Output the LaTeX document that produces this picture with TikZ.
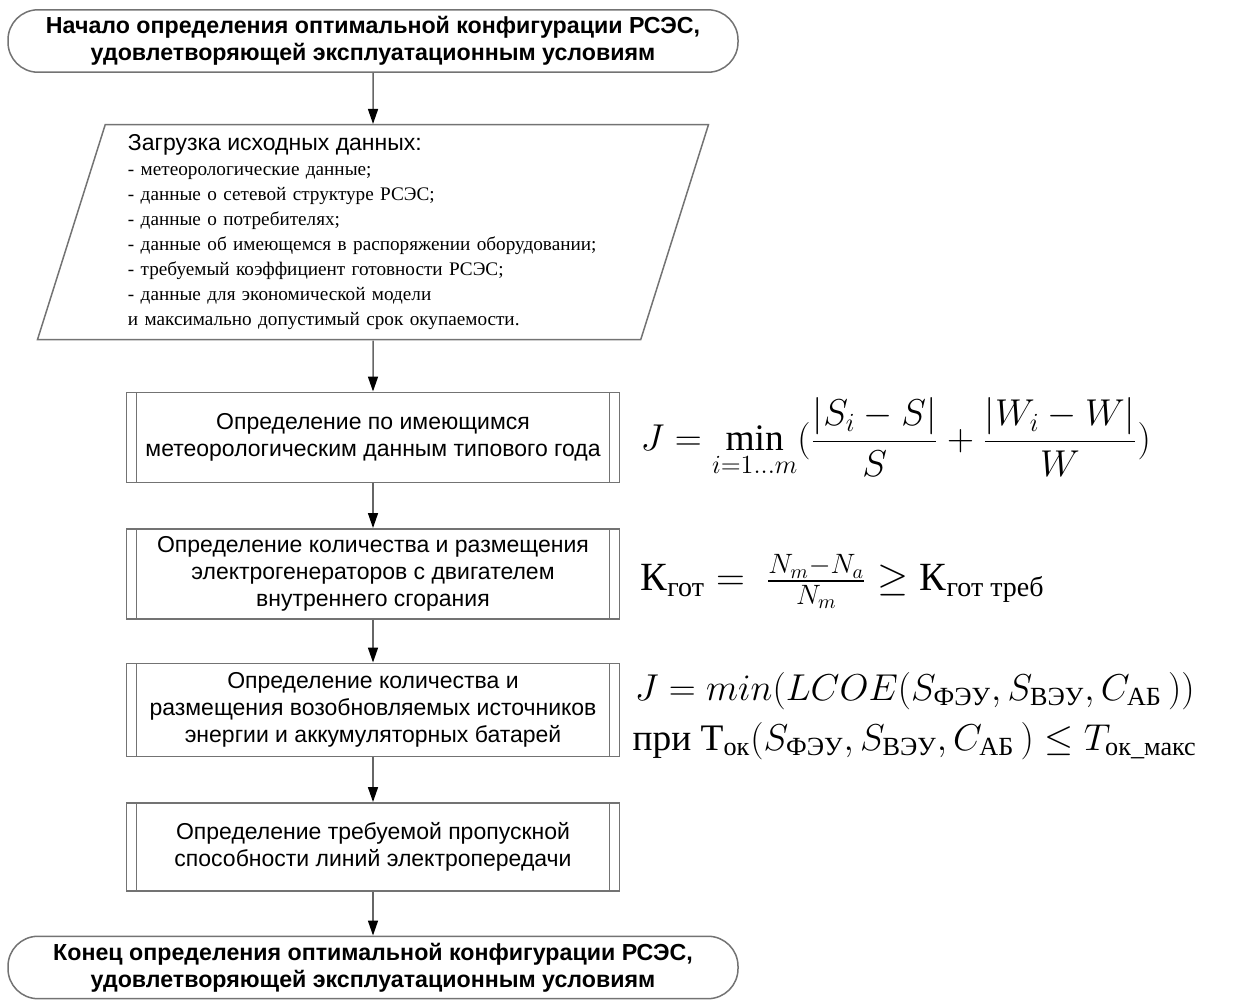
\RequirePackage{fix-cm}
\documentclass[tikz,border=0pt]{standalone}
\usepackage{fontspec}
\usepackage{amsmath}
\setmainfont{Liberation Serif}
\setsansfont{Liberation Sans}
\usetikzlibrary{positioning,shapes.geometric,arrows.meta}

\tikzset{
  linea/.style={draw=black!55, line width=0.75pt},
  terminal/.style={linea, rounded corners=15pt, minimum width=365pt, minimum height=31pt,
    align=center, font=\sffamily\bfseries\fontsize{11.6}{13.5}\selectfont},
  datos/.style={linea, trapezium, trapezium left angle=72, trapezium right angle=108,
    trapezium stretches body, minimum width=335.5pt, minimum height=107.5pt,
    text width=245pt, align=left, font=\rmfamily\fontsize{9.6}{12.5}\selectfont},
  proceso/.style={linea, minimum width=246.5pt, minimum height=45pt, align=center,
    font=\sffamily\fontsize{11.5}{13.6}\selectfont,
    path picture={
      \draw[black!55, line width=0.75pt]
        ([xshift=5pt]path picture bounding box.north west) -- ([xshift=5pt]path picture bounding box.south west)
        ([xshift=-5pt]path picture bounding box.north east) -- ([xshift=-5pt]path picture bounding box.south east);}},
  flecha/.style={draw=black!60, line width=0.75pt, -{Triangle[length=7.5pt,width=5pt,color=black]}},
  formula/.style={inner sep=0pt, align=center, font=\rmfamily\fontsize{18.7}{25}\selectfont}
}

\begin{document}
\begin{tikzpicture}[x=0.5pt,y=-0.5pt]
\useasboundingbox (0,0) rectangle (1235,1003);

\node[terminal] (nachalo) at (373,41) {Начало определения оптимальной конфигурации РСЭС,\\удовлетворяющей эксплуатационным условиям}; % start
\node[datos, below=25.5pt of nachalo] (zagruzka) {{\sffamily\fontsize{11.5}{12.5}\selectfont Загрузка исходных данных:}\\
- метеорологические данные;\\
- данные о сетевой структуре РСЭС;\\
- данные о потребителях;\\
- данные об имеющемся в распоряжении оборудовании;\\
- требуемый коэффициент готовности РСЭС;\\
- данные для экономической модели\\
и максимально допустимый срок окупаемости.};
\node[proceso, below=25.5pt of zagruzka] (etap1) {Определение по имеющимся\\метеорологическим данным типового года};
\node[proceso, below=22.5pt of etap1] (etap2) {Определение количества и размещения\\электрогенераторов с двигателем\\внутреннего сгорания};
\node[proceso, below=21.5pt of etap2, minimum height=46.5pt] (etap3) {Определение количества и\\размещения возобновляемых источников\\энергии и аккумуляторных батарей};
\node[proceso, below=22.5pt of etap3, minimum height=44pt] (etap4) {Определение требуемой пропускной\\способности линий электропередачи};
\node[terminal, below=22pt of etap4, minimum height=30pt] (konec) {Конец определения оптимальной конфигурации РСЭС,\\удовлетворяющей эксплуатационным условиям}; % end

\draw[flecha] (nachalo) -- (zagruzka);
\draw[flecha] (zagruzka) -- (etap1);
\draw[flecha] (etap1) -- (etap2);
\draw[flecha] (etap2) -- (etap3);
\draw[flecha] (etap3) -- (etap4);
\draw[flecha] (etap4) -- (konec);

% formulas
\node[formula, right=10pt of etap1] (formula1) {$\displaystyle J = \min_{i=1\ldots m}(\frac{|S_i - S|}{S} + \frac{|W_i - W|}{W})$};
\node[formula, right=10pt of etap2, yshift=-4pt, font=\rmfamily\fontsize{20}{25}\selectfont] (formula2) {$\textrm{К}_{\textrm{гот}} = \ \tfrac{N_m - N_a}{N_m} \geq \textrm{К}_{\textrm{гот треб}}$};
\node[formula, right=6pt of etap3, yshift=-3pt] (formula3) {$J = min(LCOE(S_{\textrm{ФЭУ}}, S_{\textrm{ВЭУ}}, C_{\textrm{АБ}}\,))$\\
при $\textrm{Т}_{\textrm{ок}}(S_{\textrm{ФЭУ}}, S_{\textrm{ВЭУ}}, C_{\textrm{АБ}}\,) \leq T_{\textrm{ок\_макс}}$};
\end{tikzpicture}
\end{document}
